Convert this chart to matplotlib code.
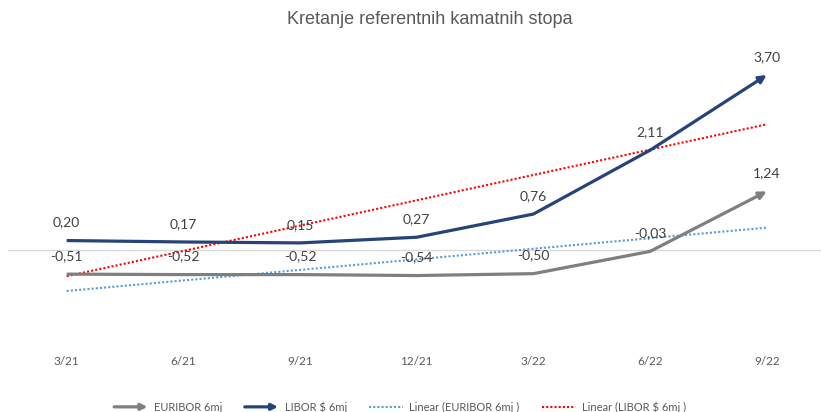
import matplotlib
matplotlib.use("Agg")
import matplotlib.pyplot as plt
import numpy as np
from matplotlib.patches import FancyArrowPatch
from matplotlib.legend_handler import HandlerBase
from matplotlib.lines import Line2D

# data
quarters = ["3/21", "6/21", "9/21", "12/21", "3/22", "6/22", "9/22"]
euribor = [-0.51, -0.52, -0.52, -0.54, -0.50, -0.03, 1.24]
libor = [0.20, 0.17, 0.15, 0.27, 0.76, 2.11, 3.70]

title = "Kretanje referentnih kamatnih stopa"
label_euribor = "EURIBOR 6mj"
label_libor = "LIBOR $ 6mj"
label_trend_eur = "Linear (EURIBOR 6mj )"
label_trend_lib = "Linear (LIBOR $ 6mj )"

c_eur = "#7f7f7f"
c_lib = "#264478"
c_teur = "#5b9bd5"
c_tlib = "#ff0000"
txt = "#404040"

plt.rcParams['font.family'] = ['Lato', 'DejaVu Sans']


class ArrowHandler(HandlerBase):
    def create_artists(self, legend, orig_handle, xdescent, ydescent,
                       width, height, fontsize, trans):
        y = height / 2 - ydescent
        a = FancyArrowPatch((-xdescent, y), (-xdescent + width, y),
                            arrowstyle='-|>', mutation_scale=9,
                            color=orig_handle.get_color(),
                            lw=orig_handle.get_linewidth(),
                            shrinkA=0, shrinkB=0, transform=trans)
        return [a]


fig = plt.figure(figsize=(8.21, 4.12), dpi=100)
ax = fig.add_axes([8 / 821, 62 / 412, 813 / 821, 290 / 412])

x = np.arange(len(quarters))
ax.set_xlim(-0.503, 6.465)
ax.set_ylim(-2.114, 4.017)

ax.axhline(0, color="#d9d9d9", lw=1, zorder=1)

# trendlines (least squares like excel)
xs = x + 1
p_eur = np.polyfit(xs, euribor, 1)
p_lib = np.polyfit(xs, libor, 1)
ax.plot(x, np.polyval(p_eur, xs), color=c_teur, lw=1.5, ls=(0, (1, 1)), zorder=2)
ax.plot(x, np.polyval(p_lib, xs), color=c_tlib, lw=1.5, ls=(0, (1, 1)), zorder=2)


def arrow_line(vals, color):
    ln, = ax.plot(x[:-1], vals[:-1], color=color, lw=2.3, zorder=3,
                  solid_joinstyle='round', solid_capstyle='butt')
    arr = FancyArrowPatch((x[-2], vals[-2]), (x[-1], vals[-1]),
                          arrowstyle='-|>', mutation_scale=11, color=color,
                          lw=2.3, shrinkA=0, shrinkB=0, zorder=3)
    ax.add_patch(arr)
    return ln


ln_eur = arrow_line(euribor, c_eur)
ln_lib = arrow_line(libor, c_lib)

for xi, v in zip(x, libor):
    ax.annotate(f"{v:.2f}".replace(".", ","), (xi, v), xytext=(0, 13),
                textcoords="offset points", ha="center", va="center",
                fontsize=10, color=txt, zorder=4)
for xi, v in zip(x, euribor):
    ax.annotate(f"{v:.2f}".replace(".", ","), (xi, v), xytext=(0, 13),
                textcoords="offset points", ha="center", va="center",
                fontsize=10, color=txt, zorder=4)

ax.set_xticks(x)
ax.set_xticklabels(quarters, fontsize=8.5, color="#595959")
ax.tick_params(axis="x", length=0, pad=4)
ax.set_yticks([])
for s in ax.spines.values():
    s.set_visible(False)

fig.text(430 / 821, 1 - 20 / 412, title, ha="center", va="center",
         fontsize=13, color="#595959", family=['Liberation Sans Narrow', 'Liberation Sans'])

h_teur = Line2D([], [], color=c_teur, lw=1.5, ls=(0, (1, 1)))
h_tlib = Line2D([], [], color=c_tlib, lw=1.5, ls=(0, (1, 1)))
fig.legend([ln_eur, ln_lib, h_teur, h_tlib],
           [label_euribor, label_libor, label_trend_eur, label_trend_lib],
           handler_map={ln_eur: ArrowHandler(), ln_lib: ArrowHandler()},
           loc="center", bbox_to_anchor=(400 / 821, 1 - 407 / 412), ncol=4,
           frameon=False, fontsize=8, labelcolor="#595959",
           handlelength=3.0, handletextpad=0.6, columnspacing=2.0)

fig.savefig("out.png", dpi=100, facecolor="white")
